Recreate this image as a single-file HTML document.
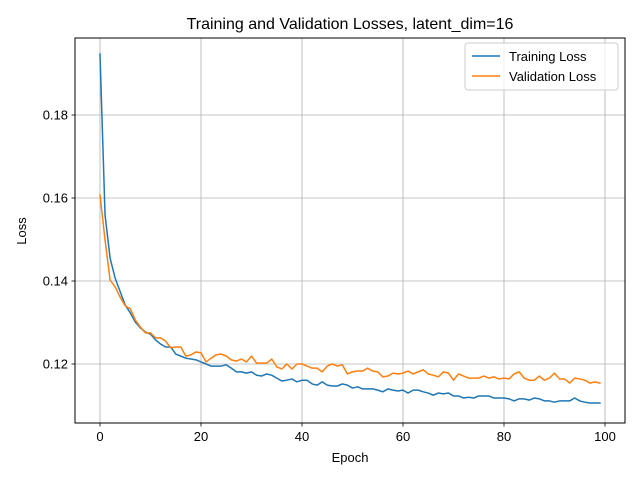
<!DOCTYPE html>
<html><head><meta charset="utf-8"><style>
body{margin:0;background:#fff;}
svg{font-family:"Liberation Sans","DejaVu Sans",sans-serif;}
</style></head><body>
<svg id="chart" width="640" height="480" viewBox="0 0 640 480">
<rect width="640" height="480" fill="#fff"/>
<text x="350" y="29" font-size="16" text-anchor="middle">Training and Validation Losses, latent_dim=16</text>
<g id="grid"></g><g id="ticks"></g><g id="series"></g>
<rect x="75" y="38" width="550" height="385" fill="none" stroke="#000" stroke-width="1"/>
<text x="350" y="462" font-size="13" text-anchor="middle">Epoch</text>
<text x="26" y="231" font-size="13" text-anchor="middle" transform="rotate(-90 26 231)">Loss</text>
<g>
<rect x="465" y="43" width="153" height="47" rx="3" fill="#fff" fill-opacity="0.8" stroke="#ccc"/>
<g><line x1="472" y1="56" x2="500" y2="56" stroke="#1f77b4" stroke-width="1.5"/><text x="509" y="61" font-size="13">Training Loss</text></g>
<g><line x1="472" y1="76" x2="500" y2="76" stroke="#ff7f0e" stroke-width="1.5"/><text x="509" y="81" font-size="13">Validation Loss</text></g>
</g>
</svg>
<script>
const xTicks=[0,20,40,60,80,100];
const yTicks=[0.12,0.14,0.16,0.18];
const trainLoss=[0.1947,0.1559,0.1455,0.1407,0.1374,0.1342,0.1323,0.1301,0.1287,0.1277,0.1272,0.1258,0.1248,0.1241,0.1241,0.1224,0.1219,0.1214,0.1212,0.1210,0.1205,0.1200,0.1195,0.1195,0.1195,0.1198,0.1190,0.1181,0.1181,0.1178,0.1181,0.1173,0.1171,0.1176,0.1173,0.1166,0.1159,0.1161,0.1164,0.1157,0.1161,0.1161,0.1152,0.1149,0.1157,0.1149,0.1147,0.1147,0.1152,0.1149,0.1142,0.1145,0.1140,0.1140,0.1140,0.1137,0.1133,0.1140,0.1137,0.1135,0.1137,0.1130,0.1137,0.1137,0.1133,0.1130,0.1125,0.1130,0.1128,0.1130,0.1123,0.1123,0.1118,0.1120,0.1118,0.1123,0.1123,0.1123,0.1118,0.1118,0.1118,0.1116,0.1111,0.1116,0.1116,0.1113,0.1118,0.1116,0.1111,0.1111,0.1108,0.1111,0.1111,0.1111,0.1118,0.1111,0.1108,0.1106,0.1106,0.1106];
const valLoss=[0.1607,0.1499,0.1402,0.1386,0.1361,0.1340,0.1333,0.1306,0.1289,0.1275,0.1275,0.1263,0.1263,0.1255,0.1239,0.1241,0.1241,0.1219,0.1222,0.1229,0.1227,0.1205,0.1214,0.1222,0.1224,0.1219,0.1210,0.1207,0.1212,0.1205,0.1219,0.1202,0.1202,0.1202,0.1212,0.1193,0.1188,0.1200,0.1188,0.1200,0.1200,0.1195,0.1190,0.1190,0.1181,0.1195,0.1200,0.1195,0.1198,0.1176,0.1181,0.1183,0.1183,0.1190,0.1183,0.1181,0.1169,0.1171,0.1178,0.1176,0.1178,0.1183,0.1176,0.1181,0.1186,0.1176,0.1173,0.1169,0.1181,0.1178,0.1161,0.1176,0.1171,0.1166,0.1166,0.1166,0.1171,0.1166,0.1169,0.1164,0.1166,0.1164,0.1176,0.1181,0.1166,0.1161,0.1161,0.1171,0.1161,0.1166,0.1178,0.1164,0.1164,0.1154,0.1166,0.1164,0.1161,0.1154,0.1157,0.1154];
const NS='http://www.w3.org/2000/svg';
function xs(v){return 100+v*5.05;}
function ys(v){return 364-(v-0.12)*4150;}
function mk(t,a,p){const e=document.createElementNS(NS,t);for(const k in a)e.setAttribute(k,a[k]);p.appendChild(e);return e;}
const grid=document.getElementById('grid'),ticks=document.getElementById('ticks'),series=document.getElementById('series');
xTicks.forEach(t=>{const x=xs(t);
 const g=mk('line',{x1:x,x2:x,y1:38,y2:423,stroke:'#b0b0b0','stroke-width':0.8},grid);
 
 
 mk('line',{x1:x,x2:x,y1:423,y2:426.5,stroke:'#000','stroke-width':0.8},ticks);
 const tx=mk('text',{x:x,y:441,'font-size':13,'text-anchor':'middle'},ticks);tx.textContent=t;
 
 
});
yTicks.forEach(t=>{const y=ys(t);
 const g=mk('line',{x1:75,x2:625,y1:y,y2:y,stroke:'#b0b0b0','stroke-width':0.8},grid);
 
 
 mk('line',{x1:71.5,x2:75,y1:y,y2:y,stroke:'#000','stroke-width':0.8},ticks);
 const tx=mk('text',{x:68,y:y+4.5,'font-size':13,'text-anchor':'end'},ticks);tx.textContent=t.toFixed(2);
 
 
});
function line(arr,col,name){
 const d=arr.map((v,i)=>(i?'L':'M')+xs(i).toFixed(2)+','+ys(v).toFixed(2)).join('');
 const p=mk('path',{d:d,fill:'none',stroke:col,'stroke-width':1.5,'stroke-linejoin':'round','stroke-linecap':'square'},series);
 
 
}
line(trainLoss,'#1f77b4','training-loss-line');
line(valLoss,'#ff7f0e','validation-loss-line');
</script>
</body></html>
